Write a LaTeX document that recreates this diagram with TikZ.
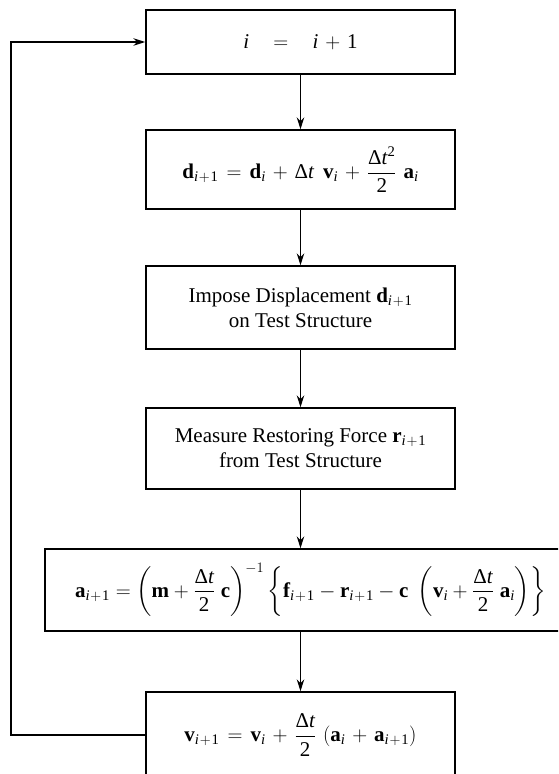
\documentclass[tikz,border=0pt]{standalone}
\usepackage{amsmath}
\usepackage{fontspec}
\setmainfont{Liberation Serif}
\usetikzlibrary{arrows.meta}
\newcommand{\bv}[1]{\text{\bfseries #1}}
\newcommand{\ix}{\text{\itshape i}}
\newcommand{\ipo}{\ix\mskip1mu+\mskip1mu\text{1}}
\newcommand{\dlt}{\text{Δ\itshape t}}
\tikzset{
  flowbox/.style={draw, line width=1.4pt, inner sep=0pt, align=center,
    font=\fontsize{21}{25}\selectfont},
  flowarrow/.style={line width=1.4pt, -{Stealth[length=12pt,width=7.5pt]}},
}
\begin{document}
\medmuskip=6mu plus 2mu minus 2mu
\thickmuskip=7mu plus 3mu minus 2mu
\begin{tikzpicture}[x=1pt,y=1pt]
\useasboundingbox (0,0) rectangle (558,-774);
\clip (0,0) rectangle (558,-774);
\node[flowbox, minimum width=309pt, minimum height=64pt] (b1) at (300.5,-42)
  {$\ix \mskip14mu=\mskip14mu \ix + \text{1}$};
\node[flowbox, minimum width=309pt, minimum height=79pt] (b2) at (300.5,-169.5)
  {$\bv{d}_{\ipo} = \bv{d}_{\ix} + \dlt\mskip8mu\bv{v}_{\ix} + \dfrac{\dlt^{\text{2}}}{\text{2}}\mskip6mu\bv{a}_{\ix}$};
\node[flowbox, minimum width=309pt, minimum height=83pt] (b3) at (300.5,-307.5)
  {Impose Displacement $\bv{d}_{\ipo}$\\on Test Structure};
\node[flowbox, minimum width=309pt, minimum height=81pt] (b4) at (300.5,-448.5)
  {Measure Restoring Force $\bv{r}_{\ipo}$\\from Test Structure};
\node[flowbox, minimum width=516pt, minimum height=82pt, text width=500pt, align=left] (b5) at (303,-590)
  {\hspace*{22pt}\medmuskip=4mu plus 1mu minus 1mu\thickmuskip=5mu plus 2mu minus 1mu$\bv{a}_{\ipo} = \left(\bv{m} + \dfrac{\dlt}{\text{2}}\mskip5mu\bv{c}\right)^{-1} \left\{\bv{f}_{\ipo} - \bv{r}_{\ipo} - \bv{c}\mskip5mu\left(\bv{v}_{\ix} + \dfrac{\dlt}{\text{2}}\mskip5mu\bv{a}_{\ix}\right)\right\}$};
\node[flowbox, minimum width=309pt, minimum height=86pt] (b6) at (300.5,-735)
  {$\bv{v}_{\ipo} = \bv{v}_{\ix} + \dfrac{\dlt}{\text{2}}\mskip6mu(\bv{a}_{\ix} + \bv{a}_{\ipo})$};
\coordinate (fb) at (11,-735);
\draw[flowarrow] (b1) -- (b2);
\draw[flowarrow] (b2) -- (b3);
\draw[flowarrow] (b3) -- (b4);
\draw[flowarrow] (b4.south) -- (b4.south |- b5.north);
\draw[flowarrow] (b5.south -| b6.north) -- (b6.north);
\draw[flowarrow] (b6.west) -- (fb) |- (b1.west);
\end{tikzpicture}
\end{document}
